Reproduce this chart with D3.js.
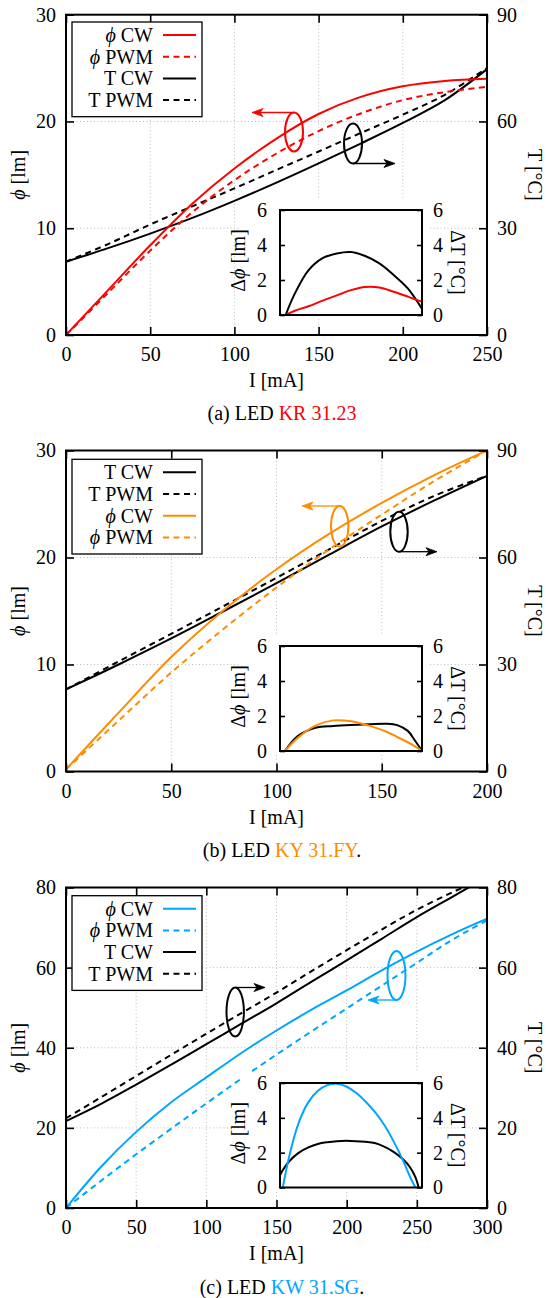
<!DOCTYPE html>
<html><head><meta charset="utf-8">
<script src="https://cdn.jsdelivr.net/npm/d3@7"></script>
<style>
body{margin:0;background:#fff}
svg{display:block}
</style>
</head><body>
<svg id="c" width="546" height="1298"></svg>
<script>
// ---------------- DATA ----------------
// (a) LED KR 31.23
const aCurrent = [0,25,50,75,100,125,150,175,200,225,250];
const aPhiCW   = [0,4.2,8.4,12.3,15.6,18.4,20.7,22.3,23.3,23.8,24.0];
const aPhiPWM  = [0,3.95,7.9,11.5,14.5,17.0,19.1,20.75,22.0,22.75,23.25];
const aTCW     = [20.6,24.4,28.5,32.9,37.7,42.8,48.2,53.8,59.6,66.0,74.7];
const aTPWM    = [20.6,25.55,31.05,36.15,41.2,46.4,51.55,56.75,61.9,67.5,75.05];
const aInsetCurrent = [10,25,50,75,100,125,150,175,200,225,250];
const aDeltaPhi = [0,0.23,0.5,0.82,1.12,1.42,1.6,1.57,1.33,1.05,0.75];
const aDeltaT   = [0,1.15,2.55,3.25,3.52,3.6,3.37,2.95,2.29,1.52,0.35];
const aXTicks = [0,50,100,150,200,250];
const aPhiTicks = [0,10,20,30];
const aTTicks = [0,30,60,90];

// (b) LED KY 31.FY
const bCurrent = [0,25,50,75,100,125,150,175,200];
const bPhiCW   = [0.2,5.5,10.7,15.1,18.9,22.2,25.1,27.7,30.0];
const bPhiPWM  = [0.2,4.75,9.25,13.35,17.2,20.75,24.0,27.15,30.0];
const bTCW     = [23.0,30.0,37.3,45.0,52.8,60.8,68.7,76.0,82.9];
const bTPWM    = [23.0,30.85,38.6,46.4,54.3,62.3,70.25,77.3,82.9];
const bInsetCurrent = [7,25,50,75,100,125,150,165,180,190,200];
const bDeltaPhi = [0,0.75,1.45,1.75,1.7,1.45,1.1,0.8,0.5,0.27,0];
const bDeltaT   = [0,0.85,1.33,1.43,1.49,1.53,1.56,1.48,1.15,0.6,0];
const bXTicks = [0,50,100,150,200];
const bPhiTicks = [0,10,20,30];
const bTTicks = [0,30,60,90];

// (c) LED KW 31.SG
const cCurrent = [0,25,50,75,100,125,150,175,200,225,250,275,300];
const cPhiCW   = [0,10.3,19.0,26.4,32.6,38.7,44.3,49.5,54.3,59.3,64.0,68.3,72.2];
const cPhiPWM  = [0,6.8,13.4,19.8,26.1,32.3,38.3,44.1,49.8,55.5,61.2,66.9,71.8];
const cTCW     = [21.7,26.0,30.8,35.8,40.9,46.0,51.1,56.5,61.8,67.2,72.6,77.6,82.6];
const cTPWM    = [22.4,27.65,32.95,38.25,43.5,48.66,53.77,59.13,64.35,69.5,74.45,78.75,82.6];
const cInsetCurrent = [0,6,20,40,60,80,100,120,140,160,180,200,220,240,260,275,286,293];
const cDeltaPhi = [null,0,1.85,3.75,4.9,5.55,5.88,5.95,5.8,5.45,4.95,4.35,3.6,2.65,1.55,0.6,0,null];
const cDeltaT   = [0.7,1.0,1.52,2.0,2.3,2.5,2.6,2.66,2.68,2.66,2.62,2.55,2.35,2.05,1.62,1.15,0.6,0];
const cXTicks = [0,50,100,150,200,250,300];
const cPhiTicks = [0,20,40,60,80];
const cTTicks = [0,20,40,60,80];

const insetTicks = [0,2,4,6];
const legendA = ["phiCW","phiPWM","TCW","TPWM"];
const legendB = ["TCW","TPWM","phiCW","phiPWM"];
const legendC = ["phiCW","phiPWM","TCW","TPWM"];
const captionLetters = ["(a)","(b)","(c)"];
const captionNames = ["KR 31.23","KY 31.FY","KW 31.SG"];
const captionEnds = ["",".","."];

// ---------------- CONFIG (built from data) ----------------
const panels = [
  {I:aCurrent, phiCW:aPhiCW, phiPWM:aPhiPWM, TCW:aTCW, TPWM:aTPWM, xTicks:aXTicks, phiTicks:aPhiTicks, tTicks:aTTicks,
   insI:aInsetCurrent, dPhi:aDeltaPhi, dT:aDeltaT, legend:legendA},
  {I:bCurrent, phiCW:bPhiCW, phiPWM:bPhiPWM, TCW:bTCW, TPWM:bTPWM, xTicks:bXTicks, phiTicks:bPhiTicks, tTicks:bTTicks,
   insI:bInsetCurrent, dPhi:bDeltaPhi, dT:bDeltaT, legend:legendB},
  {I:cCurrent, phiCW:cPhiCW, phiPWM:cPhiPWM, TCW:cTCW, TPWM:cTPWM, xTicks:cXTicks, phiTicks:cPhiTicks, tTicks:cTTicks,
   insI:cInsetCurrent, dPhi:cDeltaPhi, dT:cDeltaT, legend:legendC}
];
const colors = ["#ff0000","#ff8c00","#00a5ff"];
const layout = [
  {top:14.7, bottom:335, it:210, ib:315, legTop:22, cap:413,
   ell:[{c:0,cx:294,cy:132,rx:9,ry:19.5,side:"top",to:252},{c:1,cx:353,cy:143.5,rx:9,ry:20,side:"bottom",to:395}]},
  {top:450.5, bottom:771.5, it:646, ib:751, legTop:459.3, cap:850,
   ell:[{c:0,cx:339.7,cy:526.3,rx:8.7,ry:20.3,side:"top",to:302},{c:1,cx:399,cy:531.7,rx:8.7,ry:20,side:"bottom",to:437}]},
  {top:887.5, bottom:1208, it:1083, ib:1187.5, legTop:895.7, cap:1287,
   ell:[{c:1,cx:235.2,cy:1012,rx:8.7,ry:24.5,side:"top",to:265},{c:0,cx:396.5,cy:975.5,rx:9,ry:24.5,side:"bottom",to:368}]}
];

const FONT = '"Liberation Serif","Times New Roman",serif';
const X0 = 66, X1 = 487, IX0 = 280, IX1 = 422;
const DASH = "6,4.5";
const svg = d3.select("#c");
const defs = svg.append("defs");
const curve = d3.curveCatmullRom.alpha(0.5);

function styleAxis(sel, fs){
  sel.select(".domain").remove();
  sel.selectAll("line").attr("stroke","#000").attr("stroke-width",1.6);
  sel.selectAll("text").attr("font-size",fs).attr("font-family",FONT).attr("fill","#000");
  sel.attr("font-family",FONT);
}

function symLabel(text, key){
  const isPhi = key.startsWith("phi");
  text.append("tspan").attr("font-style", isPhi ? "italic" : "normal").text(isPhi ? "ϕ" : "T");
  text.append("tspan").text(key.endsWith("PWM") ? " PWM" : " CW");
}

panels.forEach((p,k)=>{
  const L = layout[k];
  const col = colors[k];
  const xMax = p.xTicks[p.xTicks.length-1];
  const x = d3.scaleLinear().domain([0,xMax]).range([X0,X1]);
  const yL = d3.scaleLinear().domain([0,p.phiTicks[p.phiTicks.length-1]]).range([L.bottom,L.top]);
  const yR = d3.scaleLinear().domain([0,p.tTicks[p.tTicks.length-1]]).range([L.bottom,L.top]);
  const g = svg.append("g");

  // grid
  const grid = g.append("g").attr("stroke","#bdbdbd").attr("stroke-width",1).attr("stroke-dasharray","1,2.5");
  p.xTicks.slice(1,-1).forEach(v=>grid.append("line").attr("x1",x(v)).attr("x2",x(v)).attr("y1",L.top).attr("y2",L.bottom));
  p.phiTicks.slice(1,-1).forEach(v=>grid.append("line").attr("x1",X0).attr("x2",X1).attr("y1",yL(v)).attr("y2",yL(v)));

  // clip
  defs.append("clipPath").attr("id","clip"+k).append("rect")
    .attr("x",X0).attr("y",L.top).attr("width",X1-X0).attr("height",L.bottom-L.top);
  const lg = g.append("g").attr("clip-path",`url(#clip${k})`);
  const mk = (ys, ysc) => d3.line().x((d,i)=>x(p.I[i])).y(d=>ysc(d)).curve(curve)(ys);
  const styles = {
    phiCW:{d:mk(p.phiCW,yL), c:col, dash:null},
    phiPWM:{d:mk(p.phiPWM,yL), c:col, dash:DASH},
    TCW:{d:mk(p.TCW,yR), c:"#000", dash:null},
    TPWM:{d:mk(p.TPWM,yR), c:"#000", dash:DASH}
  };
  ["TPWM","TCW","phiPWM","phiCW"].forEach(key=>{
    const s = styles[key];
    lg.append("path").attr("d",s.d).attr("fill","none").attr("stroke",s.c)
      .attr("stroke-width",2).attr("stroke-dasharray",s.dash);
  });

  // ellipse annotations
  L.ell.forEach(e=>{
    const c = e.c===0 ? col : "#000";
    g.append("ellipse").attr("cx",e.cx).attr("cy",e.cy).attr("rx",e.rx).attr("ry",e.ry)
      .attr("fill","none").attr("stroke",c).attr("stroke-width",2);
    const ay = e.side==="top" ? e.cy-e.ry : e.cy+e.ry;
    const dir = e.to > e.cx ? 1 : -1;
    g.append("line").attr("x1",e.cx).attr("x2",e.to-dir*6).attr("y1",ay).attr("y2",ay)
      .attr("stroke",c).attr("stroke-width",1.3);
    const t = e.to;
    g.append("path").attr("d",`M${t},${ay} L${t-dir*11},${ay-4} L${t-dir*8},${ay} L${t-dir*11},${ay+4} Z`)
      .attr("fill",c).attr("stroke",c).attr("stroke-width",0.8).attr("stroke-linejoin","miter");
  });

  // axes
  styleAxis(g.append("g").attr("transform",`translate(0,${L.bottom})`)
    .call(d3.axisBottom(x).tickValues(p.xTicks).tickFormat(d3.format("d")).tickSizeInner(-8).tickSizeOuter(0).tickPadding(12)),20);
  styleAxis(g.append("g").attr("transform",`translate(0,${L.top})`)
    .call(d3.axisTop(x).tickValues(p.xTicks).tickSizeInner(-8).tickSizeOuter(0).tickFormat("")),20);
  styleAxis(g.append("g").attr("transform",`translate(${X0},0)`)
    .call(d3.axisLeft(yL).tickValues(p.phiTicks).tickFormat(d3.format("d")).tickSizeInner(-8).tickSizeOuter(0).tickPadding(10)),20);
  styleAxis(g.append("g").attr("transform",`translate(${X1},0)`)
    .call(d3.axisRight(yR).tickValues(p.tTicks).tickFormat(d3.format("d")).tickSizeInner(-8).tickSizeOuter(0).tickPadding(10)),20);
  g.append("rect").attr("x",X0).attr("y",L.top).attr("width",X1-X0).attr("height",L.bottom-L.top)
    .attr("fill","none").attr("stroke","#000").attr("stroke-width",2);

  // axis titles
  const mid = (L.top+L.bottom)/2;
  const yt = g.append("text").attr("transform",`translate(18,${mid}) rotate(-90)`)
    .attr("text-anchor","middle").attr("dy","0.35em").attr("font-size",20).attr("font-family",FONT);
  yt.append("tspan").attr("font-style","italic").text("ϕ"); yt.append("tspan").text(" [lm]");
  g.append("text").attr("transform",`translate(535,${mid}) rotate(90)`)
    .attr("text-anchor","middle").attr("dy","0.35em").attr("font-size",20).attr("font-family",FONT).text("T [°C]");
  g.append("text").attr("x",(X0+X1)/2).attr("y",L.bottom+45).attr("dy","0.35em")
    .attr("text-anchor","middle").attr("font-size",20).attr("font-family",FONT).text("I [mA]");

  // caption
  const cap = g.append("text").attr("x",282).attr("y",L.cap).attr("dy","0.35em")
    .attr("text-anchor","middle").attr("font-size",20).attr("font-family",FONT);
  cap.append("tspan").text(captionLetters[k]+" LED ");
  cap.append("tspan").attr("fill",col).text(captionNames[k]);
  cap.append("tspan").text(captionEnds[k]);

  // inset
  const ix = d3.scaleLinear().domain([0,xMax]).range([IX0,IX1]);
  const iy = d3.scaleLinear().domain([0,6]).range([L.ib,L.it]);
  g.append("rect").attr("x",IX0-40).attr("y",L.it-10).attr("width",IX1-IX0+46).attr("height",L.ib-L.it+13).attr("fill","#fff");
  defs.append("clipPath").attr("id","iclip"+k).append("rect")
    .attr("x",IX0).attr("y",L.it).attr("width",IX1-IX0).attr("height",L.ib-L.it);
  const ig = g.append("g").attr("clip-path",`url(#iclip${k})`);
  const imk = ys => d3.line().defined(d=>d!=null).x((d,i)=>ix(p.insI[i])).y(d=>iy(d)).curve(curve)(ys);
  ig.append("path").attr("d",imk(p.dT)).attr("fill","none").attr("stroke","#000").attr("stroke-width",2);
  ig.append("path").attr("d",imk(p.dPhi)).attr("fill","none").attr("stroke",col).attr("stroke-width",2);
  styleAxis(g.append("g").attr("transform",`translate(${IX0},0)`)
    .call(d3.axisLeft(iy).tickValues(insetTicks).tickFormat(d3.format("d")).tickSizeInner(-5).tickSizeOuter(0).tickPadding(13)),20);
  styleAxis(g.append("g").attr("transform",`translate(${IX1},0)`)
    .call(d3.axisRight(iy).tickValues(insetTicks).tickFormat(d3.format("d")).tickSizeInner(-5).tickSizeOuter(0).tickPadding(11)),20);
  g.append("rect").attr("x",IX0).attr("y",L.it).attr("width",IX1-IX0).attr("height",L.ib-L.it)
    .attr("fill","none").attr("stroke","#000").attr("stroke-width",2);
  const imid = (L.it+L.ib)/2;
  const il = g.append("text").attr("transform",`translate(238,${imid-2}) rotate(-90)`)
    .attr("text-anchor","middle").attr("dy","0.35em").attr("font-size",20).attr("font-family",FONT);
  il.append("tspan").text("Δ"); il.append("tspan").attr("font-style","italic").text("ϕ"); il.append("tspan").text(" [lm]");
  g.append("text").attr("transform",`translate(458,${imid}) rotate(90)`)
    .attr("text-anchor","middle").attr("dy","0.35em").attr("font-size",20).attr("font-family",FONT).text("ΔT [°C]");

  // legend
  const lgd = g.append("g");
  lgd.append("rect").attr("x",72).attr("y",L.legTop).attr("width",130).attr("height",94.7)
    .attr("fill","#fff").attr("stroke","#000").attr("stroke-width",1.3);
  p.legend.forEach((key,i)=>{
    const yy = L.legTop + 13 + i*21.7;
    const t = lgd.append("text").attr("x",153).attr("y",yy).attr("dy","0.35em")
      .attr("text-anchor","end").attr("font-size",20).attr("font-family",FONT);
    symLabel(t,key);
    const s = styles[key];
    lgd.append("line").attr("x1",163).attr("x2",196).attr("y1",yy).attr("y2",yy)
      .attr("stroke",s.c).attr("stroke-width",2).attr("stroke-dasharray",s.dash);
  });
});
</script>
</body></html>
